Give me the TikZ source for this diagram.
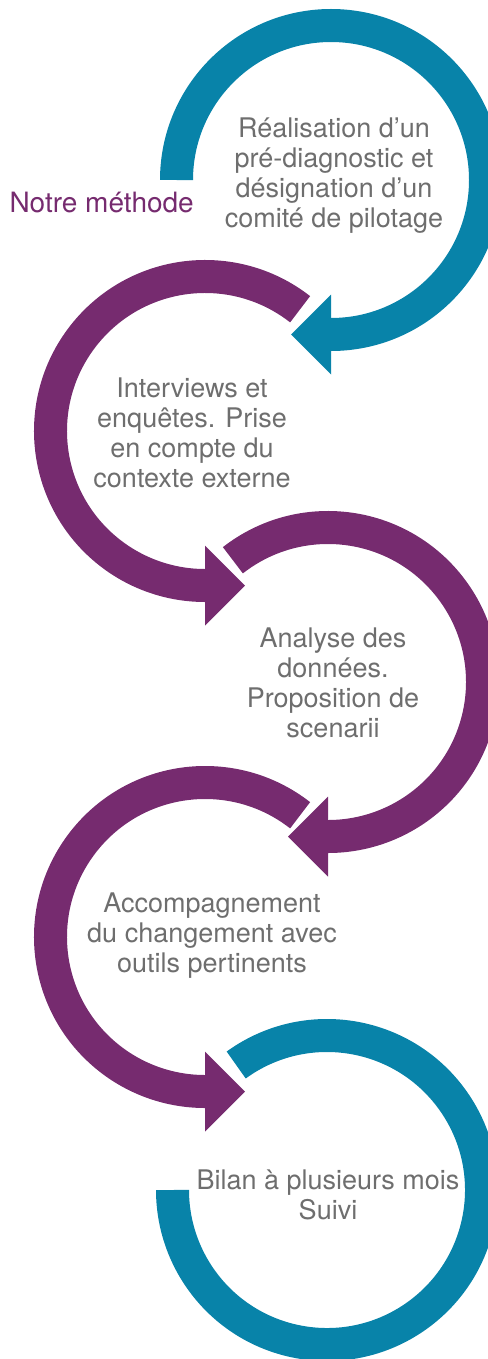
\documentclass[tikz,border=0pt]{standalone}
\usepackage{fontspec}
\setmainfont{TeX Gyre Heros}
\definecolor{methodeblue}{HTML}{0883A9}
\definecolor{methodepurple}{HTML}{762B6F}
\definecolor{gristexte}{HTML}{6E6E6E}

\begin{document}
\begin{tikzpicture}[x=1pt, y=1pt,
  ring/.style={line width=33pt}, % thick open circle
  etape/.style={
    align=center,
    text=gristexte,
    font=\fontsize{27}{30}\selectfont
  },
  titre/.style={text=methodepurple, font=\fontsize{28}{30}\selectfont}
]
\useasboundingbox (0,0) rectangle (487,-1359);

% centres of the five rings
\coordinate (c1) at (331,-180);
\coordinate (c2) at (205,-431);
\coordinate (c3) at (328,-682);
\coordinate (c4) at (205,-937);
\coordinate (c5) at (327,-1190);

% rings ending in an arrow head at the bottom
\foreach \c/\a/\b/\col/\d in {c1/180/-90/methodeblue/-40,
                              c2/52/270/methodepurple/40,
                              c3/128/-90/methodepurple/-40,
                              c4/52/270/methodepurple/40} {
  \draw[ring, \col] (\c) ++(\a:154.5) arc[start angle=\a, end angle=\b, radius=154.5];
  \fill[\col] (\c) ++(0,-114.5) -- ++(0,-80) -- ++(\d,40) -- cycle;
}
% last ring, no arrow
\draw[ring, methodeblue] (c5) ++(126:154.5) arc[start angle=126, end angle=-180, radius=154.5];

\node[titre, anchor=west] (titre) at (6,-203) {Notre méthode};

\node[etape] (e1) at (334,-176) {Réalisation d’un\\pré-diagnostic et\\désignation d’un\\comité de pilotage};
\node[etape] (e2) at (192,-433) {Interviews et\\enquêtes. Prise\\en compte du\\contexte externe};
\node[etape] (e3) at (333,-683) {Analyse des\\données.\\Proposition de\\scenarii};
\node[etape] (e4) at (212,-936) {Accompagnement\\du changement avec\\outils pertinents};
\node[etape] (e5) at (328,-1195) {Bilan à plusieurs mois\\Suivi};
\end{tikzpicture}
\end{document}
